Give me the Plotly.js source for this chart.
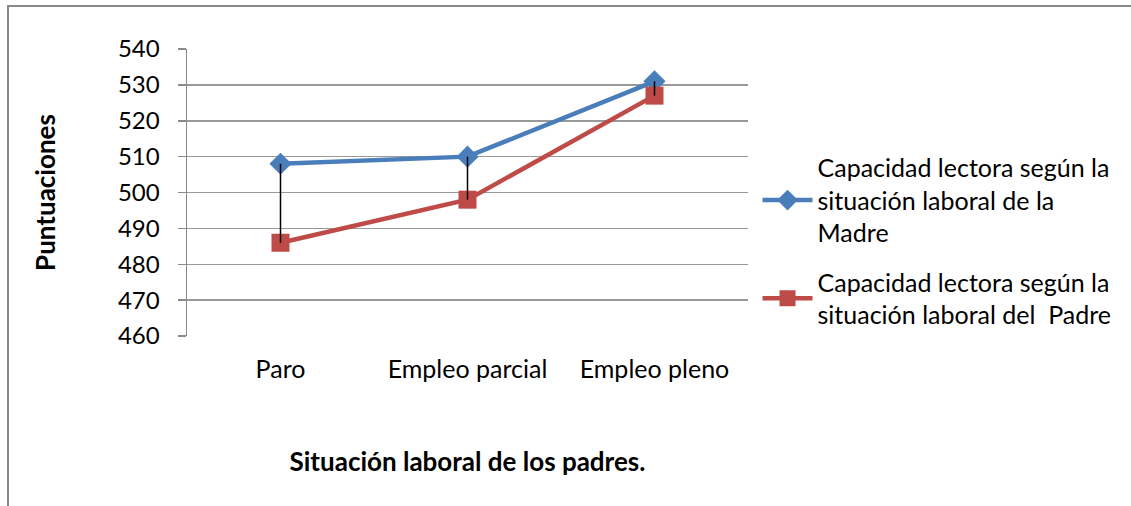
<!DOCTYPE html>
<html>
<head>
<meta charset="utf-8">
<script src="https://cdn.plot.ly/plotly-3.0.1.min.js"></script>
<style>
  html, body { margin: 0; padding: 0; background: #fff; overflow: hidden; }
  #chart { width: 1131px; height: 506px; }
  .fl { position: absolute; background: #898989; pointer-events: none; }
  #ftop { left: 7px; top: 5px; width: 1124px; height: 2px; }
  #fleft { left: 7px; top: 5px; width: 2px; height: 501px; }
</style>
</head>
<body>
<div id="chart"></div>
<div id="ftop" class="fl"></div>
<div id="fleft" class="fl"></div>
<script>
const categories = ["Paro", "Empleo parcial", "Empleo pleno"];
const madre = [508, 510, 531];
const padre = [486, 498, 527];
const seriesNames = [
  "Capacidad lectora según la<br>situación laboral de la<br>Madre",
  "Capacidad lectora según la<br>situación laboral del  Padre"
];
const yTicks = [460, 470, 480, 490, 500, 510, 520, 530, 540];
const xTitle = "Situación laboral de los padres.";
const yTitle = "Puntuaciones";

// drop (high-low) lines built from the data
const dropX = [], dropY = [];
categories.forEach((c, i) => { dropX.push(c, c, null); dropY.push(madre[i], padre[i], null); });

const font = "Lato, 'Liberation Sans', sans-serif";

const traces = [
  { x: categories, y: madre, name: seriesNames[0], type: "scatter", mode: "lines+markers",
    legendgroup: "a",
    line: { color: "#4A7EBB", width: 4.5 },
    marker: { symbol: "diamond", size: 17, color: "#4A7EBB" } },
  { x: categories, y: padre, name: seriesNames[1], type: "scatter", mode: "lines+markers",
    legendgroup: "b",
    line: { color: "#BE4B48", width: 4.5 },
    marker: { symbol: "square", size: 18, color: "#BE4B48" } },
  { x: dropX, y: dropY, type: "scatter", mode: "lines", showlegend: false, hoverinfo: "skip",
    line: { color: "#000", width: 1.5 } }
];

const layout = {
  width: 1131, height: 506,
  margin: { l: 187, r: 383, t: 49, b: 170 },
  paper_bgcolor: "#fff", plot_bgcolor: "#fff",
  font: { family: font, size: 25, color: "#000" },
  showlegend: true,
  legend: { x: 1.017, xanchor: "left", y: 0.33, yanchor: "middle",
            font: { family: font, size: 25, color: "#000" },
            traceorder: "grouped", tracegroupgap: 14, itemwidth: 50,
            bgcolor: "rgba(0,0,0,0)" },
  xaxis: {
    type: "category", range: [-0.5, 2.5],
    showgrid: false, zeroline: false, showline: false, ticks: "",
    ticklabelstandoff: 16,
    tickfont: { family: font, size: 25, color: "#000" },
    title: { text: xTitle, font: { family: font, size: 26, color: "#000", weight: "bold" }, standoff: 70 }
  },
  yaxis: {
    range: [460, 540], tickvals: yTicks,
    showgrid: true, gridcolor: "#999", gridwidth: 1.5,
    zeroline: false, showline: true, linecolor: "#8a8a8a", linewidth: 1.5,
    ticks: "outside", ticklen: 8, tickcolor: "#8a8a8a", tickwidth: 1.5,
    ticklabelstandoff: 13,
    tickfont: { family: font, size: 24, color: "#000" },
    title: { text: yTitle, font: { family: font, size: 26, color: "#000", weight: "bold" }, standoff: 55 }
  }
};

Plotly.newPlot("chart", traces, layout, { displayModeBar: false, staticPlot: true });
</script>
</body>
</html>
